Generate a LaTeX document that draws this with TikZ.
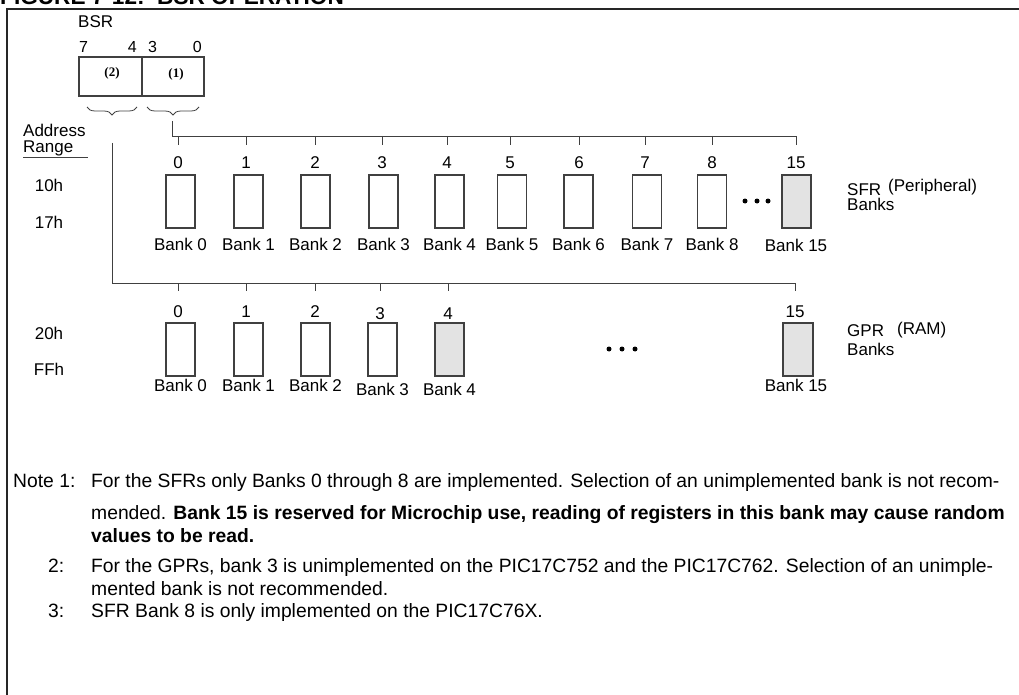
\documentclass[tikz,border=0pt]{standalone}
\usepackage{fontspec}
\setmainfont{Liberation Sans}
\newfontfamily\serifbold{Liberation Serif}
\usetikzlibrary{decorations.pathreplacing}
\newcommand{\fsz}[1]{\fontsize{#1}{#1}\selectfont}

\tikzset{
  bank/.style={draw=black!75, line width=1.1pt, minimum width=29, minimum height=53, inner sep=0},
  rsvd/.style={bank, fill=black!11},
  lbl/.style={font=\fsz{17}, inner sep=0, anchor=base},
  bitno/.style={font=\fsz{16}, inner sep=0},
  note/.style={font=\fsz{19.3}, inner sep=0, anchor=base west},
  bus/.style={draw=black!75, line width=0.9pt},
  brc/.style={draw=black!75, line width=0.8pt, decorate, decoration={brace, amplitude=8}},
  dot/.style={circle, fill=black, inner sep=0, minimum size=5},
  reg/.style={draw=black!75, line width=1.1pt, minimum height=39, inner sep=0},
  field/.style={font=\serifbold\bfseries\fsz{13}, inner sep=0},
}

\begin{document}
\begin{tikzpicture}[x=1pt, y=-1pt]
  \useasboundingbox (0,0) rectangle (1019,695);
  % caption, cut by the page edge, and frame
  \node[font=\bfseries\fsz{22.6}, inner sep=0, anchor=base west] (figno) at (0,5) {FIGURE 7-12:};
  \node[font=\bfseries\fsz{22.6}, inner sep=0, anchor=base west] (figtl) at (157,5) {BSR OPERATION};
  \draw[line width=2pt, black!85] (1019,9) -- (7,9) -- (7,695);
  % BSR register
  \node[lbl, anchor=base west] (bsr) at (78,28) {BSR};
  \node[bitno, anchor=base west] (bit7) at (79,53) {7};
  \node[bitno, anchor=base east] (bit4) at (137,53) {4};
  \node[bitno, anchor=base west] (bit3) at (148,53) {3};
  \node[bitno, anchor=base east] (bit0) at (202,53) {0};
  \node[reg, minimum width=63] (bsrhi) at (110.5,76.5) {};
  \node[reg, minimum width=62] (bsrlo) at (173,76.5) {};
  \node[field] (hilbl) at (112,73) {(2)};
  \node[field] (lolbl) at (176,74) {(1)};
  \draw[brc] (137,107) -- (87,107);
  \draw[brc] (199,107) -- (147,107);
  % address range column
  \node[lbl, anchor=base west] (addr) at (23,137) {Address};
  \node[lbl, anchor=base west] (rng) at (23,153) {Range};
  \draw[bus] (23,157.5) -- (88,157.5);
  \node[lbl] (a10) at (49,192) {10h};
  \node[lbl] (a17) at (49,228) {17h};
  \node[lbl] (a20) at (49,339) {20h};
  \node[lbl] (aff) at (49,375) {FFh};
  % SFR banks
  \foreach \n/\bx/\tx in {0/180.5/178, 1/248.5/246, 2/315.5/315, 3/383.5/382, 4/449.5/447,
                          5/512/510, 6/578.5/579, 7/647/645, 8/712/712}{
    \node[bank] (sb\n) at (\bx,201.5) {};
    \node[lbl] (sn\n) at (\tx,168) {\n};
    \node[lbl] (sl\n) at (\bx,250) {Bank \n};
    \coordinate (st\n) at (\tx,136);
    \coordinate (se\n) at (\tx,145);
    \draw[bus] (st\n) -- (se\n);
  }
  \node[rsvd] (sb15) at (796.5,201.5) {};
  \node[lbl] (sn15) at (796,168) {15};
  \node[lbl] (sl15) at (796,251) {Bank 15};
  \coordinate (rtip) at (172,121);
  \coordinate (st15) at (796,136);
  \coordinate (se15) at (796,145);
  \draw[bus] (rtip) |- (st15) -- (se15);
  \foreach \i/\x in {1/745, 2/757, 3/768}
    \node[dot] (sd\i) at (\x,201) {};
  \node[lbl, anchor=base west] (sfr) at (847,196) {SFR};
  \node[lbl, anchor=base west] (sfrp) at (888,192) {(Peripheral)};
  \node[lbl, anchor=base west] (sfrb) at (847,211) {Banks};
  % GPR banks
  \foreach \n/\bx/\tx/\ny/\ly/\fc in {0/180.5/178/317/391/white, 1/248.5/246/317/391/white,
                                     2/315.5/315/317/391/white, 3/382.5/380/319/395/white,
                                     4/449.5/448/319/395/black!11}{
    \node[bank, fill=\fc] (gb\n) at (\bx,349.5) {};
    \node[lbl] (gn\n) at (\tx,\ny) {\n};
    \node[lbl] (gl\n) at (\bx,\ly) {Bank \n};
    \coordinate (gt\n) at (\tx,283);
    \coordinate (ge\n) at (\tx,291);
    \draw[bus] (gt\n) -- (ge\n);
  }
  \node[rsvd, minimum width=30] (gb15) at (798,349.5) {};
  \node[lbl] (gn15) at (795,317) {15};
  \node[lbl] (gl15) at (796,391) {Bank 15};
  \coordinate (ltip) at (112,143);
  \coordinate (gt15) at (795,283);
  \coordinate (ge15) at (795,291);
  \draw[bus] (ltip) |- (gt15) -- (ge15);
  \foreach \i/\x in {1/609, 2/622, 3/635}
    \node[dot] (gd\i) at (\x,349) {};
  \node[lbl, anchor=base west] (gpr) at (847,336) {GPR};
  \node[lbl, anchor=base west] (gprr) at (897,334) {(RAM)};
  \node[lbl, anchor=base west] (gprb) at (847,355) {Banks};
  % notes
  \node[note] (n1l) at (13,487) {Note 1:};
  \node[note] (n1a) at (91,487) {For the SFRs only Banks 0 through 8 are implemented. Selection of an unimplemented bank is not recom-};
  \node[note] (n1b) at (91,519) {mended. \textbf{Bank 15 is reserved for Microchip use, reading of registers in this bank may cause random}};
  \node[note] (n1c) at (91,542) {\textbf{values to be read.}};
  \node[note] (n2l) at (48,572) {2:};
  \node[note] (n2a) at (91,572) {For the GPRs, bank 3 is unimplemented on the PIC17C752 and the PIC17C762. Selection of an unimple-};
  \node[note] (n2b) at (91,595) {mented bank is not recommended.};
  \node[note] (n3l) at (48,617) {3:};
  \node[note] (n3a) at (91,617) {SFR Bank 8 is only implemented on the PIC17C76X.};
\end{tikzpicture}
\end{document}
